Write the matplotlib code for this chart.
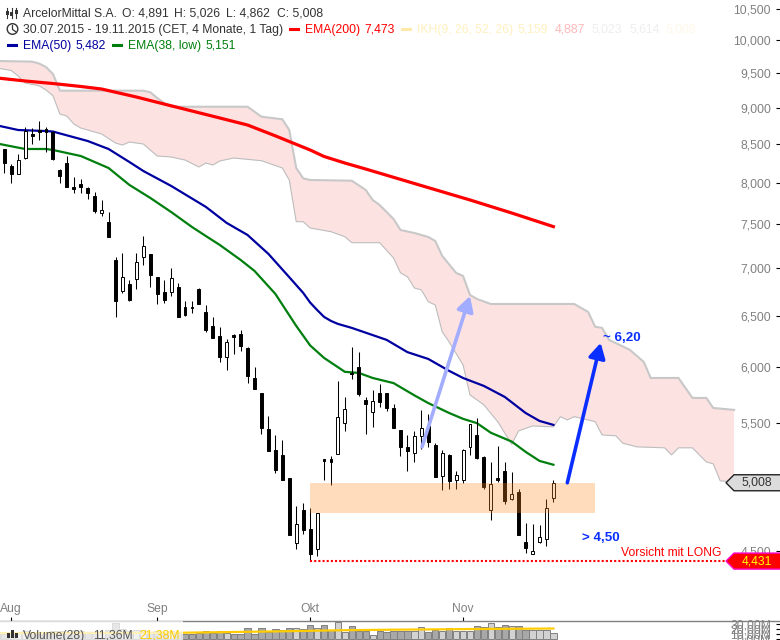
import matplotlib
matplotlib.use("Agg")
import matplotlib.pyplot as plt
import numpy as np
from matplotlib.lines import Line2D
from matplotlib.patches import Circle, Polygon, Rectangle
from matplotlib.ticker import FixedLocator, NullLocator, FixedFormatter
from matplotlib.transforms import IdentityTransform

plt.rcParams['font.family'] = ['Liberation Sans', 'DejaVu Sans']

# daily candles 30.07.2015 - 19.11.2015
opens = [8.255, 8.437, 8.215, 8.110, 8.323, 8.637, 8.691, 8.700, 8.660, 8.165,
         8.250, 7.950, 7.988, 7.938, 7.840, 7.638, 7.524, 7.094, 6.762, 6.833,
         6.884, 7.131, 7.161, 6.904, 6.748, 6.751, 6.801, 6.591, 6.591, 6.780,
         6.538, 6.399, 6.296, 6.100, 6.307, 6.319, 6.183, 5.897, 5.763, 5.445,
         5.272, 5.231, 5.046, 4.555, 4.800, 4.660, 4.515, 5.195, 5.198, 5.242,
         5.497, 5.949, 5.999, 5.700, 5.592, 5.763, 5.763, 5.629, 5.439, 5.297,
         5.245, 5.386, 5.473, 5.311, 5.065, 5.231, 5.033, 5.026, 5.294, 5.397,
         5.216, 4.798, 5.045, 5.102, 4.886, 4.938, 4.565, 4.480, 4.562, 4.586,
         4.891]
highs = [8.319, 8.437, 8.237, 8.367, 8.727, 8.714, 8.814, 8.727, 8.682, 8.173,
         8.345, 8.080, 8.047, 7.950, 7.886, 7.791, 7.646, 7.127, 7.169, 6.876,
         7.169, 7.364, 7.161, 6.911, 6.876, 7.005, 6.844, 6.657, 6.657, 6.787,
         6.612, 6.486, 6.385, 6.268, 6.316, 6.359, 6.190, 6.002, 5.763, 5.559,
         5.397, 5.355, 5.046, 4.830, 4.851, 4.813, 4.780, 5.195, 5.222, 5.872,
         5.727, 6.193, 6.142, 5.727, 5.790, 5.844, 5.763, 5.662, 5.439, 5.397,
         5.431, 5.612, 5.577, 5.327, 5.270, 5.237, 5.102, 5.277, 5.491, 5.542,
         5.220, 5.174, 5.305, 5.174, 5.094, 4.960, 4.704, 4.696, 4.689, 4.884,
         5.026]
lows = [8.013, 8.131, 8.004, 8.110, 8.310, 8.503, 8.556, 8.402, 8.293, 8.004,
        7.954, 7.881, 7.881, 7.807, 7.638, 7.602, 7.356, 6.486, 6.741, 6.650,
        6.783, 7.039, 6.804, 6.626, 6.636, 6.709, 6.492, 6.500, 6.533, 6.622,
        6.342, 6.283, 6.052, 5.977, 6.128, 6.157, 5.856, 5.801, 5.408, 5.266,
        5.088, 5.033, 4.619, 4.517, 4.626, 4.431, 4.463, 5.033, 4.994, 5.242,
        5.433, 5.893, 5.738, 5.408, 5.465, 5.640, 5.606, 5.459, 5.225, 5.104,
        5.176, 5.282, 5.299, 5.057, 4.948, 4.958, 4.963, 5.010, 5.233, 5.200,
        4.958, 4.728, 5.015, 4.848, 4.878, 4.612, 4.484, 4.480, 4.557, 4.540,
        4.862]
closes = [8.127, 8.250, 8.118, 8.289, 8.677, 8.614, 8.668, 8.668, 8.306, 8.092,
          7.954, 7.930, 7.950, 7.881, 7.658, 7.666, 7.356, 6.657, 6.904, 6.664,
          7.069, 7.250, 6.933, 6.730, 6.664, 6.894, 6.492, 6.510, 6.583, 6.622,
          6.359, 6.283, 6.100, 6.239, 6.291, 6.205, 5.921, 5.801, 5.456, 5.266,
          5.110, 5.033, 4.619, 4.694, 4.654, 4.477, 4.775, 5.184, 5.176, 5.548,
          5.617, 5.940, 5.754, 5.667, 5.688, 5.685, 5.632, 5.459, 5.299, 5.266,
          5.386, 5.453, 5.341, 5.057, 5.245, 5.018, 5.072, 5.270, 5.488, 5.206,
          4.975, 4.997, 5.031, 4.864, 4.920, 4.612, 4.526, 4.498, 4.600, 4.817,
          5.008]

# traded volume in millions, same days as the candles
volumes = [9.5, 9.5, 12, 15, 16, 14, 13, 15, 17, 16,
           14, 18, 16, 14, 13, 15, 18, 32, 20, 17,
           18, 19, 15, 16, 14, 16, 13, 10, 9.5, 11.6,
           15.6, 12.9, 15.6, 11.6, 9.5, 10.9, 21.8, 9.5, 21.8, 14.3,
           19.7, 18.4, 21.8, 21.8, 19.7, 27.9, 23.1, 27.9, 18.4, 35.4,
           15, 25.9, 17, 17, 8.2, 15.6, 13.6, 15.6, 17, 17,
           17, 23.8, 15, 18.4, 17, 21.8, 15.6, 15.6, 15.6, 26.5,
           23.8, 32, 23.8, 28.6, 25.9, 25.9, 18.4, 18.4, 18.4, 18.4,
           11.36]
vol_ma_days = [0, 27, 40, 50, 57, 70, 80]
vol_ma = [12.0, 12.9, 15.5, 18.0, 19.0, 20.5, 21.38]

# moving averages, read at irregular day positions
ema200_days = [0, 4, 8, 12, 15, 20, 24, 28, 32, 36, 40, 42, 45, 47, 50, 53, 60, 68, 74, 80]
ema200 = [9.427, 9.383, 9.346, 9.303, 9.266, 9.151, 9.051, 8.953, 8.856, 8.759,
          8.612, 8.536, 8.424, 8.339, 8.254, 8.177, 7.994, 7.791, 7.634, 7.473]
ema50_days = [0, 3, 7, 8, 13, 16, 19, 21, 25, 30, 33, 36, 39, 42, 43, 44, 45, 46, 47, 48, 49, 51,
              56, 59, 62, 65, 67, 70, 73, 76, 78, 80]
ema50 = [8.753, 8.691, 8.677, 8.670, 8.543, 8.437, 8.267, 8.152, 7.964, 7.707,
         7.516, 7.376, 7.161, 6.905, 6.821, 6.738, 6.637, 6.561, 6.490, 6.449, 6.419, 6.379,
         6.261, 6.142, 6.077, 5.965, 5.899, 5.826, 5.727, 5.585, 5.516, 5.482]
ema38_days = [0, 4, 7, 8, 12, 16, 19, 22, 25, 28, 30, 32, 35, 37, 40, 43, 45, 47,
              50, 52, 54, 57, 60, 62, 65, 67, 69, 71, 74, 76, 78, 80]
ema38 = [8.509, 8.437, 8.437, 8.424, 8.345, 8.190, 7.976, 7.816, 7.646, 7.469,
         7.364, 7.262, 7.094, 6.973, 6.727, 6.399, 6.207, 6.087, 5.956, 5.946,
         5.899, 5.852, 5.741, 5.672, 5.585, 5.534, 5.497, 5.415, 5.341, 5.256,
         5.182, 5.151]

# ichimoku cloud edges
cloud_up_days = [0, 5, 6, 7, 8, 9, 21, 22, 23, 24, 25, 36, 38, 41, 42, 43, 44, 45,
                 51, 53, 54, 55, 57, 58, 60, 62, 63, 64, 66, 67, 68, 69, 71, 83, 85,
                 86, 87, 88, 91, 93, 94, 98, 100, 102, 103, 106]
cloud_up = [9.681, 9.671, 9.643, 9.590, 9.486, 9.242, 9.242, 9.219, 9.137, 9.066,
            9.013, 9.013, 8.874, 8.838, 8.691, 8.190, 8.059, 8.038, 8.029, 7.914,
            7.791, 7.730, 7.563, 7.434, 7.399, 7.353, 7.308, 7.139, 6.952, 6.919,
            6.716, 6.674, 6.622, 6.622, 6.540, 6.391, 6.379, 6.261, 6.164, 6.049,
            5.899, 5.899, 5.718, 5.718, 5.629, 5.612]
cloud_low_days = [0, 2, 3, 4, 6, 7, 8, 9, 10, 11, 12, 15, 17, 18, 19, 21, 23, 25,
                  27, 29, 30, 31, 32, 34, 38, 41, 42, 43, 44, 45, 48, 50, 51, 55,
                  57, 58, 59, 60, 61, 62, 63, 64, 65, 67, 68, 70, 72, 74, 75, 77,
                  80, 81, 82, 83, 86, 87, 89, 90, 92, 96, 97, 98, 100, 102, 103,
                  104, 106]
cloud_low = [9.575, 9.538, 9.456, 9.353, 9.314, 9.252, 9.170, 8.911, 8.882, 8.773,
             8.718, 8.637, 8.516, 8.489, 8.529, 8.503, 8.345, 8.332, 8.293, 8.203,
             8.254, 8.228, 8.280, 8.319, 8.284, 8.190, 8.038, 7.531, 7.531, 7.457,
             7.414, 7.356, 7.288, 7.288, 7.116, 6.952, 6.910, 6.790, 6.769, 6.646,
             6.612, 6.342, 6.241, 6.021, 5.745, 5.656, 5.508, 5.319, 5.431, 5.473,
             5.465, 5.553, 5.525, 5.553, 5.510, 5.397, 5.389, 5.327, 5.297, 5.289,
             5.231, 5.289, 5.289, 5.174, 5.158, 5.023, 5.015]

price_ticks = [4.5, 5, 5.5, 6, 6.5, 7, 7.5, 8, 8.5, 9, 9.5, 10, 10.5]
# the 5,000 label sits under the last price tag
price_labels = ['4,500', '', '5,500', '6,000', '6,500', '7,000', '7,500',
                '8,000', '8,500', '9,000', '9,500', '10,000', '10,500']
month_days = [2, 23, 45, 67]
month_labels = ['Aug', 'Sep', 'Okt', 'Nov']
vol_ticks = [0, 10, 20, 30]
vol_labels = ['0,00M', '10,00M', '20,00M', '30,00M']

W, H = 780, 640
GREY = '#808080'
FS = 8.7


def px(x, y):
    # reference pixel (y down) to display coords
    return (x, H - y)


fig = plt.figure(figsize=(W / 100, H / 100), dpi=100)
ax = fig.add_axes([0, 19 / H, 1, 621 / H])
axv = fig.add_axes([0, 0, 1, 19 / H], sharex=ax)
axv.patch.set_alpha(0)

days = np.arange(len(closes))

ax.set_yscale('log')
ax.set_xlim(0.381, 112.6)
ax.set_ylim(4.035, 10.649)

# cloud
ax.fill(np.r_[cloud_up_days, cloud_low_days[::-1]], np.r_[cloud_up, cloud_low[::-1]],
        color='#FDE2E2', lw=0, zorder=1)
ax.plot(cloud_up_days, cloud_up, color='#C8C8C8', lw=1.5, zorder=1.2)
ax.plot(cloud_low_days, cloud_low, color='#BDBDBD', lw=0.8, zorder=1.2)

# EMAs
ax.plot(ema200_days, ema200, color='#FF0000', lw=2.3, zorder=2, solid_joinstyle='round')
ax.plot(ema50_days, ema50, color='#0000A0', lw=1.6, zorder=2, solid_joinstyle='round')
ax.plot(ema38_days, ema38, color='#007F0E', lw=1.6, zorder=2, solid_joinstyle='round')

# candles
ax.vlines(days, lows, highs, color='black', lw=0.75, zorder=3)
for d, o, c in zip(days, opens, closes):
    ax.bar(d, abs(c - o), bottom=min(o, c), width=0.42,
           facecolor='white' if c >= o else 'black', edgecolor='black', lw=0.7, zorder=3.1)

# support zone and stop line
ax.fill_between([45, 86], 4.78, 5.008, color='#FF8C1E', alpha=0.3, lw=0, zorder=4)
ax.plot([45, 104.7], [4.431, 4.431], color='#FF0000', lw=1.5, ls=(0, (1, 1)), zorder=4)

# arrows
ax.annotate('', xy=(68, 6.706), xytext=(61.1, 5.297), zorder=5,
            arrowprops=dict(arrowstyle='-|>,head_width=0.5,head_length=0.9', mutation_scale=10,
                            color='#A3ADFF', lw=2.6, shrinkA=0, shrinkB=0))
ax.annotate('', xy=(86.8, 6.232), xytext=(82, 5.008), zorder=5,
            arrowprops=dict(arrowstyle='-|>,head_width=0.5,head_length=0.9', mutation_scale=10,
                            color='#0A2EFF', lw=2.6, shrinkA=0, shrinkB=0))

ax.text(87.1, 6.28, '~ 6,20', color='#0A2EFF', fontsize=9.6, fontweight='bold', va='center', zorder=6)
ax.text(84.1, 4.595, '> 4,50', color='#0A2EFF', fontsize=9.6, fontweight='bold', va='center', zorder=6)
ax.text(104.1, 4.486, 'Vorsicht mit LONG', color='#FF0000', fontsize=FS, ha='right', va='center', zorder=6)

# axes look
for s in ['top', 'left', 'right']:
    ax.spines[s].set_visible(False)
    axv.spines[s].set_visible(False)
axv.spines['bottom'].set_visible(False)
ax.spines['bottom'].set_color(GREY)
ax.spines['bottom'].set_linewidth(1.0)

ax.yaxis.tick_right()
ax.yaxis.set_major_locator(FixedLocator(price_ticks))
ax.yaxis.set_major_formatter(FixedFormatter(price_labels))
ax.yaxis.set_minor_locator(NullLocator())
ax.tick_params(axis='y', direction='in', length=3, width=0.8, pad=-6.5, labelsize=FS,
               labelcolor=GREY, labelright=True)
for lab in ax.get_yticklabels():
    lab.set_ha('right')

ax.set_xticks(month_days)
ax.set_xticklabels(month_labels)
ax.tick_params(axis='x', direction='in', length=3, width=0.8, pad=-4, labelsize=FS, labelcolor=GREY)
for lab in ax.get_xticklabels():
    lab.set_va('bottom')

# volume panel
up = np.array(closes) >= np.array(opens)
axv.bar(days, volumes, width=0.9, color=np.where(up, '#D2D2D2', '#A8A8A8'),
        edgecolor='#808080', lw=0.7, zorder=2)
axv.plot(vol_ma_days, vol_ma, color='#FFCC00', lw=1.6, zorder=3)
axv.set_ylim(-2, 36.7)
axv.yaxis.tick_right()
axv.yaxis.set_major_locator(FixedLocator(vol_ticks))
axv.yaxis.set_major_formatter(FixedFormatter(vol_labels))
axv.tick_params(axis='y', direction='in', length=3, width=0.8, pad=-6.5, labelsize=FS,
                labelcolor=GREY, labelright=True)
for lab in axv.get_yticklabels():
    lab.set_ha('right')
axv.set_xticks(month_days)
axv.tick_params(axis='x', direction='in', length=2, width=0.8, labelbottom=False)
axv.add_patch(Rectangle((0, 0), 183 / W, 1, transform=axv.transAxes, facecolor='white',
                        alpha=0.72, lw=0, zorder=4))


def head(x, y, s, color='#333333'):
    fig.text(x / W, 1 - (y + 4) / H, s, color=color, fontsize=FS, va='baseline', ha='left', zorder=10)


def dash(x0, x1, y, color):
    fig.add_artist(Line2D([x0, x1], [H - y, H - y], color=color, lw=2.2,
                          transform=IdentityTransform()))


head(23, 13, 'ArcelorMittal S.A.')
head(122, 13, 'O: 4,891')
head(174, 13, 'H: 5,026')
head(226, 13, 'L: 4,862')
head(277, 13, 'C: 5,008')
head(23, 29, '30.07.2015 - 19.11.2015 (CET, 4 Monate, 1 Tag)')
dash(290, 298, 29, '#FF0000')
head(305, 29, 'EMA(200)', '#FF0000')
head(364, 29, '7,473', '#FF0000')
dash(402, 410, 29, '#FFE9A8')
head(417, 29, 'IKH(9, 26, 52, 26)', '#FFF0BE')
head(518, 29, '5,159', '#FFF0BE')
head(555, 29, '4,887', '#FFB8B8')
head(592, 29, '5,023', '#EEEEEE')
head(629, 29, '5,614', '#EEEEEE')
head(666, 29, '5,008', '#FFF8E8')
dash(8, 16, 45, '#0000A0')
head(23, 45, 'EMA(50)', '#0000A0')
head(75, 45, '5,482', '#0000A0')
dash(113, 121, 45, '#007F0E')
head(128, 45, 'EMA(38, low)', '#007F0E')
head(205, 45, '5,151', '#007F0E')
head(23, 634.5, 'Volume(28)', '#555555')
head(93, 634.5, '11,36M', '#555555')
head(139, 634.5, '21,38M', '#FFCC00')

# small icons
for x, y0, y1, b0, b1 in [(7, 8, 18, 11, 15), (11.5, 8, 18, 12, 16), (16, 8, 18, 10, 14)]:
    fig.add_artist(Line2D([x, x], [H - y0, H - y1], color='#333333', lw=0.8,
                          transform=IdentityTransform()))
    fig.add_artist(Rectangle((x - 1.5, H - b1), 3, b1 - b0, facecolor='#333333', lw=0,
                             transform=IdentityTransform()))
fig.add_artist(Circle(px(12.5, 29), 5.3, facecolor='white', edgecolor='#333333', lw=1.0,
                      transform=IdentityTransform()))
fig.add_artist(Line2D([12.5, 12.5, 15.5], [H - 25.5, H - 29.5, H - 31.5], color='#333333', lw=0.9,
                      transform=IdentityTransform()))
for x, y0 in [(8, 633), (12, 630), (16, 633)]:
    fig.add_artist(Rectangle((x - 1.5, 2), 3.2, H - y0 - 2, facecolor='#333333', lw=0,
                             transform=IdentityTransform()))


def price_tag(value, text, face, edge, color):
    # arrow-shaped last value box on the right edge
    fig.canvas.draw()
    y = ax.transData.transform((1, value))[1]
    pts = [(726, y), (734, y + 8), (783, y + 8), (783, y - 8), (734, y - 8)]
    fig.add_artist(Polygon(pts, closed=True, facecolor=face, edgecolor=edge, lw=1.0,
                           transform=IdentityTransform(), zorder=8))
    fig.text(757 / W, y / H, text, color=color, fontsize=FS, ha='center', va='center', zorder=9)


price_tag(closes[-1], '5,008', '#DCDCDC', '#222222', '#333333')
price_tag(min(lows), '4,431', '#FF0000', '#FF00CC', '#FFFF00')

fig.savefig('out.png', dpi=100)
